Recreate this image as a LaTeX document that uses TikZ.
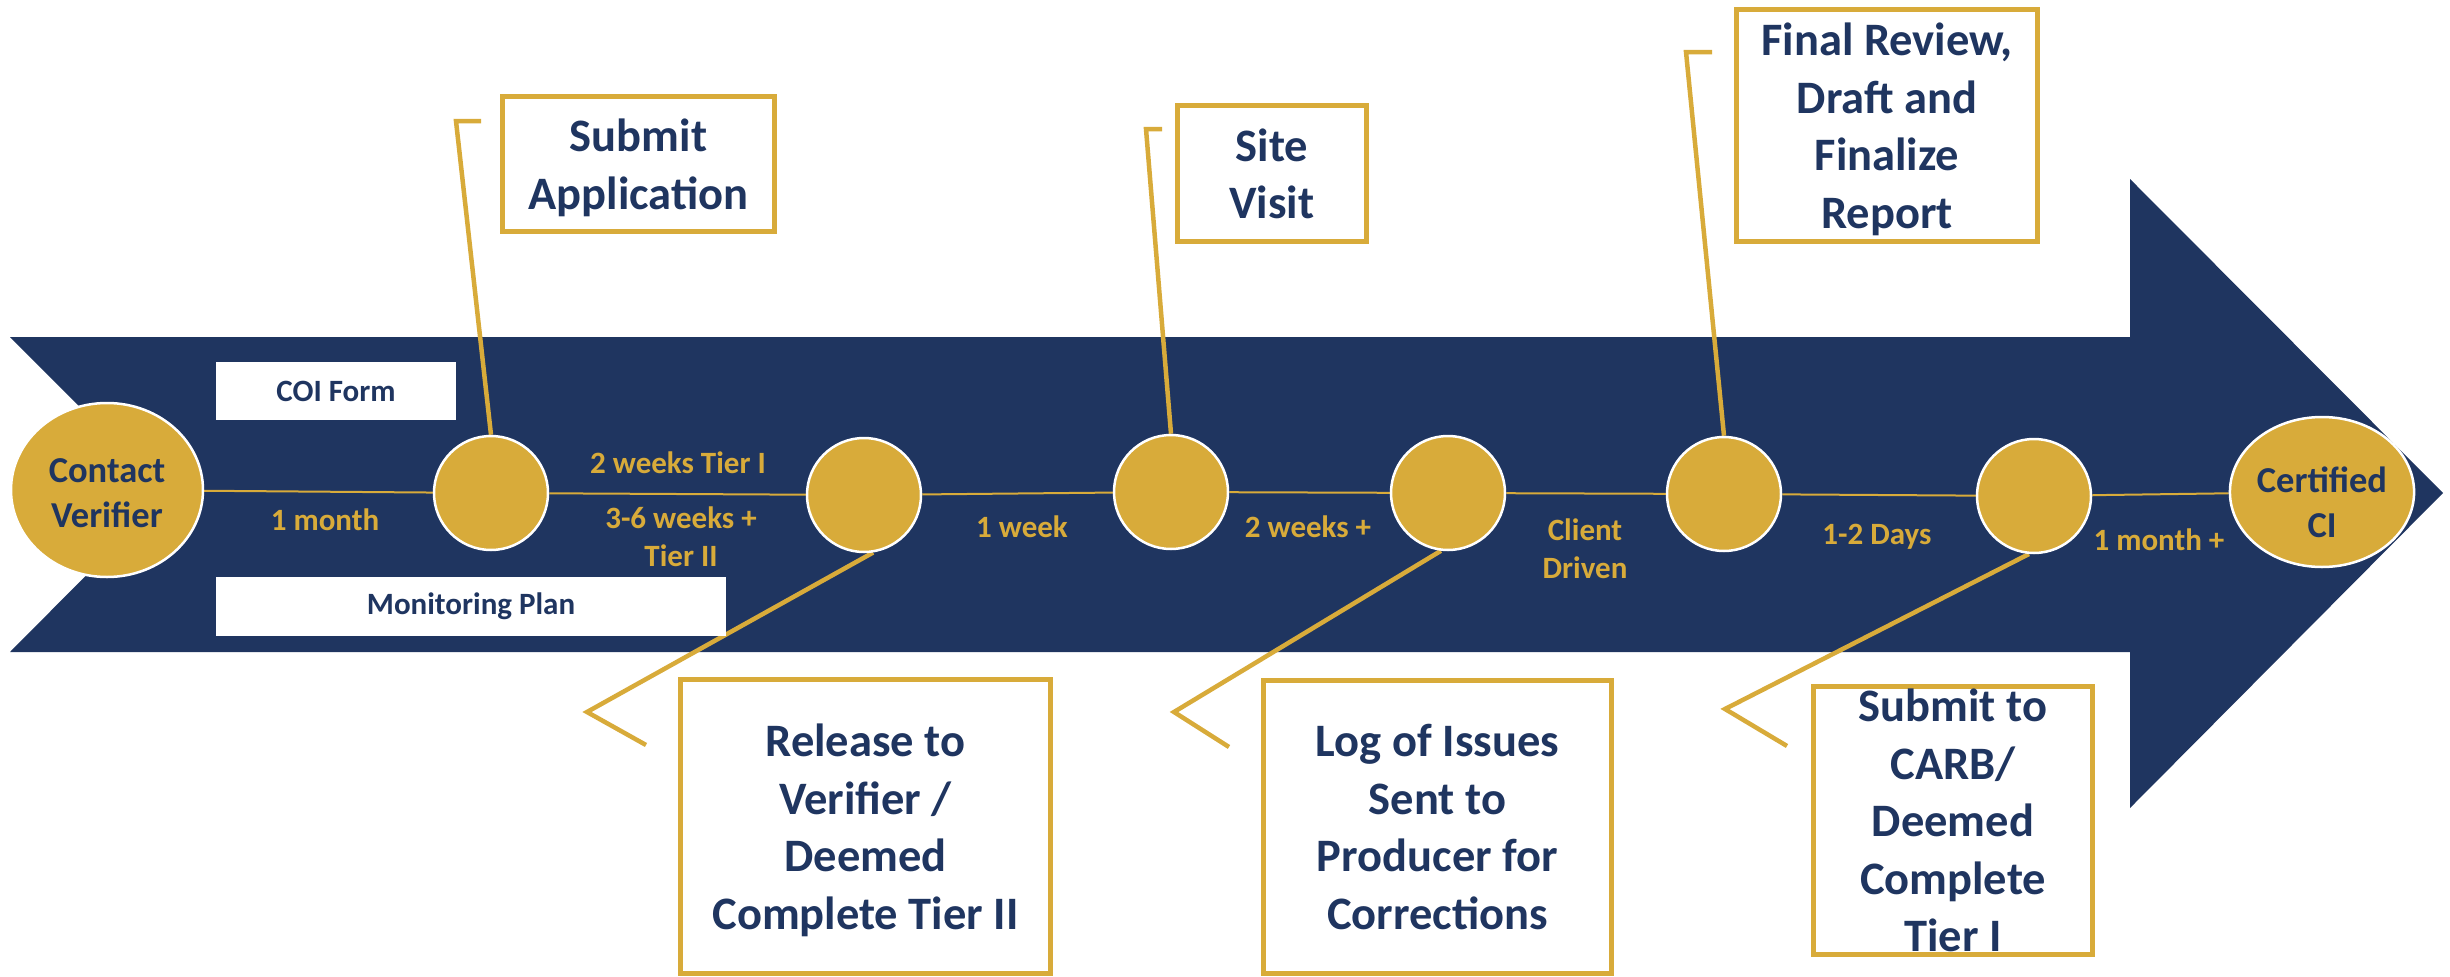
\documentclass[tikz,border=0pt]{standalone}
\usepackage{fontspec}
\setmainfont{Carlito}
\usetikzlibrary{shapes.geometric}

\definecolor{navy}{HTML}{1F3560}
\definecolor{gold}{HTML}{D8AB3A}

\pgfdeclarelayer{band}
\pgfdeclarelayer{links}
\pgfsetlayers{band,links,main}

% centred lines, moved down inside the box without changing its size
\newcommand\lowerlines[2]{\raisebox{-#1}[\height][\depth]{\begin{tabular}{@{}c@{}}#2\end{tabular}}}

\tikzset{
  milestone/.style={circle, fill=gold, draw=white, line width=2.5pt,
    minimum size=114pt, inner sep=0pt},
  endpoint/.style={ellipse, fill=gold, draw=white, line width=2.5pt,
    inner sep=0pt, text=navy,
    font=\fontsize{36.5}{45}\selectfont\bfseries},
  tag/.style={fill=white, inner sep=0pt, text=navy,
    font=\fontsize{31}{37}\selectfont\bfseries},
  stepbox/.style={draw=gold, line width=5pt, fill=white, inner sep=0pt,
    align=center, text=navy, text depth=0pt,
    font=\fontsize{46.5}{57.5}\selectfont\bfseries},
  span/.style={inner sep=0pt, align=center, text=gold,
    font=\fontsize{31}{38}\selectfont\bfseries},
  timeline/.style={draw=gold, line width=2pt},
  callout/.style={draw=gold, line width=4.5pt, line join=miter},
}

\begin{document}
\begin{tikzpicture}[x=1pt, y=-1pt]
\useasboundingbox (0,0) rectangle (2450,977);

% the big chevron arrow
\begin{pgfonlayer}{band}
  \fill[navy] (10,337) -- (2130,337) -- (2130,179) -- (2443,493)
    -- (2130,808) -- (2130,652) -- (10,652) -- (167,494) -- cycle;
\end{pgfonlayer}

% documents inside the arrow
\node[tag, minimum width=240pt, minimum height=58pt] (coi) at (336,391) {COI Form};
\node[tag, minimum width=510pt, minimum height=59pt] (mon) at (471,606) {Monitoring Plan};

% end points and milestones
\node[endpoint, minimum width=192pt, minimum height=174pt] (cv) at (107,490) {\lowerlines{6pt}{Contact\\Verifier}};
\node[milestone] (c2) at (491,493) {};
\node[milestone] (c3) at (864,495) {};
\node[milestone] (c4) at (1171,492) {};
\node[milestone] (c5) at (1448,493) {};
\node[milestone] (c6) at (1724,494) {};
\node[milestone] (c7) at (2034,496) {};
\node[endpoint, minimum width=176pt, minimum height=150pt] (ci) at (2322,492) {\lowerlines{14pt}{Certified\\CI}};

% step boxes
\node[stepbox, minimum width=272pt, minimum height=135pt] (sa) at (638.5,164) {Submit\\Application};
\node[stepbox, minimum width=189pt, minimum height=136pt] (sv) at (1272,173.5) {Site\\Visit};
\node[stepbox, minimum width=301pt, minimum height=232pt] (fr) at (1887,125.5) {Final Review,\\Draft and\\Finalize\\Report};
\node[stepbox, minimum width=370pt, minimum height=294pt] (rel) at (865.5,826.5) {Release to\\Verifier /\\Deemed\\Complete Tier II};
\node[stepbox, minimum width=348pt, minimum height=293pt] (log) at (1437.5,827) {Log of Issues\\Sent to\\Producer for\\Corrections};
\node[stepbox, minimum width=279pt, minimum height=268pt] (carb) at (1953,820.5) {Submit to\\CARB/\\Deemed\\Complete\\Tier I};

% durations
\node[span, anchor=base] (d1) at (325,530) {1 month};
\node[span, anchor=base] (d2a) at (678,473) {2 weeks Tier I};
\node[span] (d2b) at (681,537) {3-6 weeks +\\Tier II};
\node[span, anchor=base] (d3) at (1022,537) {1 week};
\node[span, anchor=base] (d4) at (1308,537) {2 weeks +};
\node[span] (d5) at (1585,549) {Client\\Driven};
\node[span, anchor=base] (d6) at (1877,544) {1-2 Days};
\node[span, anchor=base] (d7) at (2159,550) {1 month +};

% free ends of the callout leaders
\coordinate (sa-bend) at (456,121);
\coordinate (sa-tip) at (481,121);
\coordinate (sv-bend) at (1146,129);
\coordinate (sv-tip) at (1162,129);
\coordinate (fr-bend) at (1686,52);
\coordinate (fr-tip) at (1712,52);
\coordinate (rel-bend) at (587,712);
\coordinate (rel-tip) at (646,745);
\coordinate (log-bend) at (1174,712);
\coordinate (log-tip) at (1229,747);
\coordinate (carb-bend) at (1725,709);
\coordinate (carb-tip) at (1787,746);

\begin{pgfonlayer}{links}
  % timeline
  \draw[timeline] (cv) -- (c2);
  \draw[timeline] (c2) -- (c3);
  \draw[timeline] (c3) -- (c4);
  \draw[timeline] (c4) -- (c5);
  \draw[timeline] (c5) -- (c6);
  \draw[timeline] (c6) -- (c7);
  \draw[timeline] (c7) -- (ci);
  % callout leaders
  \draw[callout] (c2.north) -- (sa-bend) -- (sa-tip);
  \draw[callout] (c4.north) -- (sv-bend) -- (sv-tip);
  \draw[callout] (c6.north) -- (fr-bend) -- (fr-tip);
  \draw[callout] (c3.-81) -- (rel-bend) -- (rel-tip);
  \draw[callout] (c5.-97) -- (log-bend) -- (log-tip);
  \draw[callout] (c7.-95) -- (carb-bend) -- (carb-tip);
\end{pgfonlayer}
\end{tikzpicture}
\end{document}
